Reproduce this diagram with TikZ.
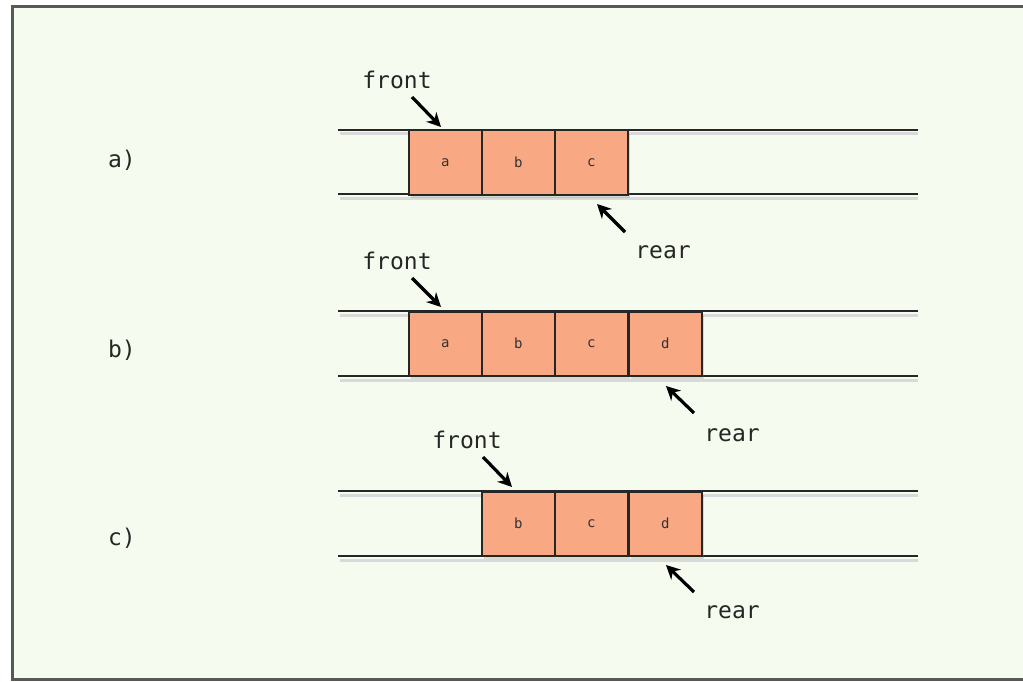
\documentclass[tikz,border=0pt]{standalone}
\usepackage{fontspec}
\setmonofont{DejaVu Sans Mono}
\usetikzlibrary{arrows.meta,shadows}
\definecolor{bgc}{HTML}{F5FBEE}
\definecolor{cellc}{HTML}{F8A883}
\definecolor{framec}{HTML}{555A55}
\tikzset{
  cell/.style={draw=black!85, line width=1.5pt, fill=cellc, minimum width=73pt, minimum height=64pt, inner sep=0pt, anchor=north west, font=\ttfamily\fontsize{14}{14}\selectfont, text=black!80, drop shadow={shadow xshift=2pt, shadow yshift=-3pt, opacity=0.25}},
  rail/.style={line width=2pt, draw=black!85},
  lbl/.style={font=\ttfamily\fontsize{23}{23}\selectfont, text=black!85, inner sep=0pt},
  ptr/.style={line width=3.2pt, -{Stealth[length=14pt,width=14pt]}, black},
}
\begin{document}
\begin{tikzpicture}[x=1pt,y=-1pt]
\useasboundingbox (0,0) rectangle (1023,682);
\fill[white] (0,0) rectangle (1023,682);
\fill[bgc] (12,7) rectangle (1030,679);
\draw[framec, line width=3pt] (1030,7) -- (12,7) -- (12,679) -- (1030,679);
% row a
\foreach \y/\n in {130/at,194/ab}{
  \draw[black!15, line width=3pt] (340,\y+4) -- (918,\y+4);
  \draw[rail] (338,\y) coordinate (\n1) -- (918,\y) coordinate (\n2);
}
\node[cell] (a1) at (408,130) {a};
\node[cell] (a2) at (481,130) {b};
\node[cell] (a3) at (554,130) {c};
\node[lbl] (la) at (122,160) {a)};
\node[lbl] (fa) at (397,80) {front};
\node[lbl] (ra) at (663,252) {rear};
\coordinate (fas) at (412,97); \coordinate (fae) at (441,127);
\coordinate (ras) at (625,232); \coordinate (rae) at (597,204);
\draw[ptr] (fas) -- (fae);
\draw[ptr] (ras) -- (rae);
% row b
\foreach \y/\n in {311/bt,376/bb}{
  \draw[black!15, line width=3pt] (340,\y+4) -- (918,\y+4);
  \draw[rail] (338,\y) coordinate (\n1) -- (918,\y) coordinate (\n2);
}
\node[cell] (b1) at (408,311) {a};
\node[cell] (b2) at (481,311) {b};
\node[cell] (b3) at (554,311) {c};
\node[cell] (b4) at (628,311) {d};
\node[lbl] (lb) at (122,350) {b)};
\node[lbl] (fb) at (397,261) {front};
\node[lbl] (rb) at (732,435) {rear};
\coordinate (fbs) at (412,278); \coordinate (fbe) at (441,307);
\coordinate (rbs) at (694,413); \coordinate (rbe) at (666,386);
\draw[ptr] (fbs) -- (fbe);
\draw[ptr] (rbs) -- (rbe);
% row c
\foreach \y/\n in {491/ct,556/cb}{
  \draw[black!15, line width=3pt] (340,\y+4) -- (918,\y+4);
  \draw[rail] (338,\y) coordinate (\n1) -- (918,\y) coordinate (\n2);
}
\node[cell] (c1) at (481,491) {b};
\node[cell] (c2) at (554,491) {c};
\node[cell] (c3) at (628,491) {d};
\node[lbl] (lc) at (122,538) {c)};
\node[lbl] (fc) at (467,440) {front};
\node[lbl] (rc) at (732,612) {rear};
\coordinate (fcs) at (483,457); \coordinate (fce) at (512,487);
\coordinate (rcs) at (694,592); \coordinate (rce) at (666,565);
\draw[ptr] (fcs) -- (fce);
\draw[ptr] (rcs) -- (rce);
\end{tikzpicture}
\end{document}
